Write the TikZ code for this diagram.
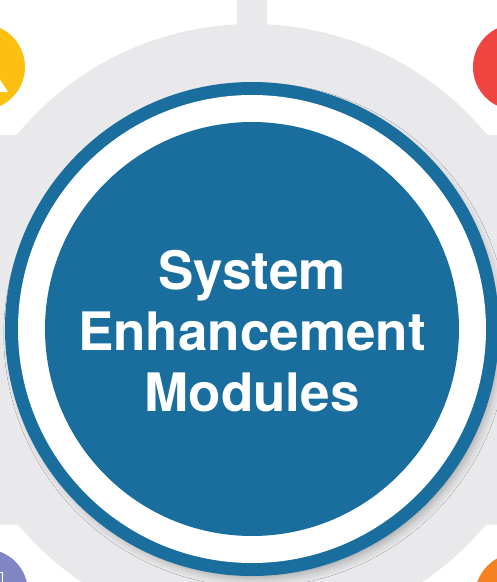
\documentclass[tikz,border=0pt]{standalone}
\usepackage{fontspec}
\newfontfamily\hubfont{TeX Gyre Heros}
\usetikzlibrary{shadows.blur}

\definecolor{ringgray}{HTML}{E9E9EB}
\definecolor{hubblue}{HTML}{1A6E9E}
\definecolor{modyellow}{HTML}{FDC010}
\definecolor{modred}{HTML}{EF443F}
\definecolor{modpurple}{HTML}{8086C4}
\definecolor{modorange}{HTML}{F58220}

\begin{document}
\begin{tikzpicture}[x=1pt,y=1pt,
    module/.style={radius=43pt},
    hubtext/.style={text=white, align=center,
      font=\hubfont\bfseries\fontsize{53}{61}\selectfont}]

  \useasboundingbox (-252,-253) rectangle (245,329);
  \begin{scope}
    \clip (-252,-253) rectangle (245,329);

    % grey ring with its bars
    \fill[ringgray] (0,0) circle [radius=305pt];
    \fill[ringgray] (-252,-196) rectangle (245,194);
    \fill[ringgray] (-15,0) rectangle (15,329);

    % modules round the hub
    \fill[modyellow] (-270,262) circle [module];
    \fill[modred] (264,262) circle [module];
    \fill[modpurple] (-267,-263) circle [module];
    \fill[modorange] (266,-267) circle [module];
    \fill[white] (-264,237) -- (-253,251) -- (-244,237) -- cycle;
    \draw[white, line width=1pt] (-262,-243) rectangle (-249,-261);

    % hub
    \fill[hubblue, blur shadow={shadow xshift=4pt, shadow yshift=-6pt,
      shadow scale=0.985, shadow blur radius=9pt, shadow opacity=30}]
      (0,0) circle [radius=247pt];
    \fill[white] (0,0) circle [radius=234pt];
    \fill[hubblue] (0,0) circle [radius=207pt];
  \end{scope}

  \node (hub) [hubtext] at (0,-2) {System\\Enhancement\\Modules};
\end{tikzpicture}
\end{document}
